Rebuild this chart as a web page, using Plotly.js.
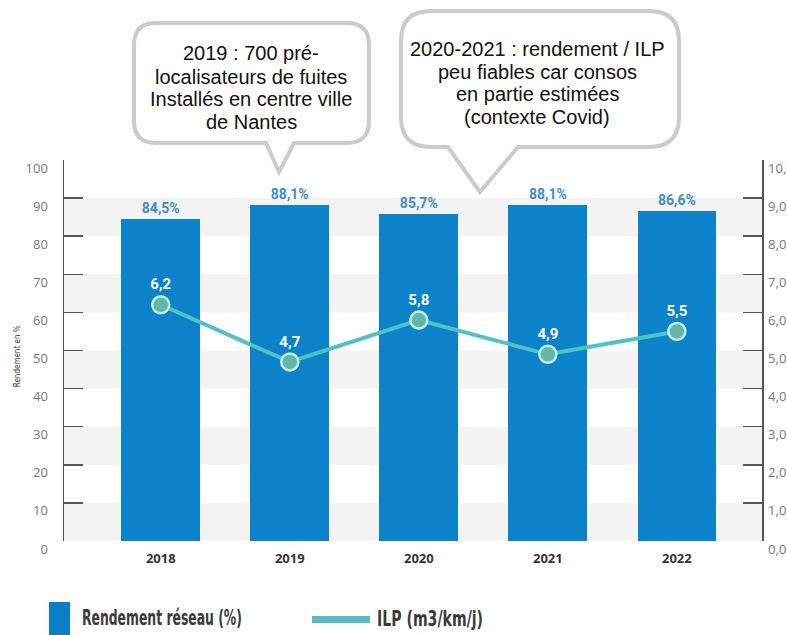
<!DOCTYPE html>
<html>
<head>
<meta charset="utf-8">
<script src="https://cdn.plot.ly/plotly-3.0.1.min.js"></script>
<style>html,body{margin:0;padding:0;background:#fff;}#chart{width:787px;height:635px;}</style>
</head>
<body>
<div id="chart"></div>
<script>
// ---- data ----
const years = ['2018', '2019', '2020', '2021', '2022'];
const rendement = [84.5, 88.1, 85.7, 88.1, 86.6];
const ilp = [6.2, 4.7, 5.8, 4.9, 5.5];
const leftTicks = [0, 10, 20, 30, 40, 50, 60, 70, 80, 90, 100];
const rightTicks = [0, 1, 2, 3, 4, 5, 6, 7, 8, 9, 10];
const bubble1Lines = ['2019 : 700 pré-', 'localisateurs de fuites', 'Installés en centre ville', 'de Nantes'];
const bubble2Lines = ['2020-2021 : rendement / ILP', 'peu fiables car consos', 'en partie estimées', '(contexte Covid)'];
const legendBar = 'Rendement réseau (%)';
const legendLine = 'ILP (m3/km/j)';
const yTitle = 'Rendement en %';

// ---- layout helpers (pixel -> paper) ----
const PL = 64, PT = 160, PW = 698, PH = 381;
const px = X => (X - PL) / PW;
const py = Y => (PT + PH - Y) / PH;
function P(X, Y) { return px(X).toFixed(5) + ',' + py(Y).toFixed(5); }
function bubblePath(x0, y0, x1, y1, r, tl, tr, tipX, tipY) {
  return 'M' + P(x0 + r, y0) + ' L' + P(x1 - r, y0) + ' Q' + P(x1, y0) + ' ' + P(x1, y0 + r) +
    ' L' + P(x1, y1 - r) + ' Q' + P(x1, y1) + ' ' + P(x1 - r, y1) +
    ' L' + P(tr, y1) + ' L' + P(tipX, tipY) + ' L' + P(tl, y1) +
    ' L' + P(x0 + r, y1) + ' Q' + P(x0, y1) + ' ' + P(x0, y1 - r) +
    ' L' + P(x0, y0 + r) + ' Q' + P(x0, y0) + ' ' + P(x0 + r, y0) + ' Z';
}

const shapes = [];
// alternating background bands
for (let v = 0; v < 100; v += 20) {
  shapes.push({type: 'rect', xref: 'paper', yref: 'y', x0: 0, x1: 1, y0: v, y1: v + 10,
    fillcolor: '#f3f3f3', line: {width: 0}, layer: 'below'});
}
// speech bubbles
shapes.push({type: 'path', xref: 'paper', yref: 'paper', layer: 'above',
  path: bubblePath(134, 23, 369, 143, 22, 266, 294, 279, 172),
  fillcolor: '#ffffff', line: {color: '#cbcbcb', width: 4}});
shapes.push({type: 'path', xref: 'paper', yref: 'paper', layer: 'above',
  path: bubblePath(401, 11, 679, 147, 30, 448, 518, 480, 192),
  fillcolor: '#ffffff', line: {color: '#cbcbcb', width: 4}});
// legend swatches
shapes.push({type: 'rect', xref: 'paper', yref: 'paper', x0: px(49), x1: px(70), y0: py(635), y1: py(602),
  fillcolor: '#0a7fc6', line: {width: 0}});
shapes.push({type: 'rect', xref: 'paper', yref: 'paper', x0: px(312), x1: px(370), y0: py(623), y1: py(616),
  fillcolor: '#5cb9c5', line: {width: 0}});

const annotations = [];
const b1Y = [53, 77, 99, 122];
bubble1Lines.forEach((t, i) => annotations.push({xref: 'paper', yref: 'paper', x: px(251), y: py(b1Y[i]),
  xanchor: 'center', yanchor: 'middle', showarrow: false, text: t,
  font: {family: 'Liberation Sans, Arial, sans-serif', size: 20, color: '#111'}}));
const b2Y = [49, 72, 94, 117];
bubble2Lines.forEach((t, i) => annotations.push({xref: 'paper', yref: 'paper', x: px(537), y: py(b2Y[i]),
  xanchor: 'center', yanchor: 'middle', showarrow: false, text: t,
  font: {family: 'Liberation Sans, Arial, sans-serif', size: 20, color: '#111'}}));
const legendFont = {family: 'DejaVu Sans Condensed, sans-serif', size: 21, color: '#3a3a3a', weight: 'bold'};
annotations.push({xref: 'paper', yref: 'paper', x: px(162), y: py(618), xanchor: 'center', yanchor: 'middle',
  showarrow: false, text: legendBar, font: legendFont});
annotations.push({xref: 'paper', yref: 'paper', x: px(430), y: py(619), xanchor: 'center', yanchor: 'middle',
  showarrow: false, text: legendLine, font: legendFont});
annotations.push({xref: 'paper', yref: 'paper', x: px(17), y: 0.485, xanchor: 'center', yanchor: 'middle',
  showarrow: false, text: yTitle, textangle: -90,
  font: {family: 'DejaVu Sans Condensed, sans-serif', size: 8, color: '#333'}});

const traces = [
  {type: 'bar', x: years, y: rendement, name: legendBar, width: 0.61,
   marker: {color: '#0b82c9'},
   texttemplate: '%{y:.1f}%', textposition: 'outside', cliponaxis: false,
   outsidetextfont: {family: 'Roboto, sans-serif', size: 14, color: '#3b8dc6', weight: 'bold'},
   hoverinfo: 'skip'},
  {type: 'scatter', mode: 'lines+markers+text', x: years, y: ilp, yaxis: 'y2', name: legendLine,
   line: {color: '#4fc3c3', width: 4},
   marker: {symbol: 'circle', size: 17, color: '#62b7ab', line: {color: '#c3efe9', width: 2.5}},
   texttemplate: '%{y:.1f}', textposition: 'top center', cliponaxis: false,
   textfont: {family: 'Roboto, sans-serif', size: 15, color: '#ffffff', weight: 'bold'},
   hoverinfo: 'skip'}
];

const axisCommon = {showgrid: false, zeroline: false, showline: true, linecolor: '#555', linewidth: 1.5,
  ticks: 'inside', ticklen: 19, tickwidth: 1.5, tickcolor: '#555',
  tickfont: {family: 'Open Sans, sans-serif', size: 13, color: '#777'}, ticklabelshift: 8, fixedrange: true};

const layout = {
  width: 787, height: 635,
  margin: {l: PL, r: 787 - PL - PW, t: PT, b: 635 - PT - PH, pad: 0},
  paper_bgcolor: '#ffffff', plot_bgcolor: 'rgba(0,0,0,0)',
  separators: ', ',
  showlegend: false,
  bargap: 0,
  xaxis: {type: 'category', range: [-0.75, 4.66], showline: false, showgrid: false, zeroline: false,
    ticks: '', ticklabelstandoff: 8,
    tickfont: {family: 'Open Sans, sans-serif', size: 13, color: '#333', weight: 'bold'}, fixedrange: true},
  yaxis: Object.assign({}, axisCommon, {range: [0, 100], tickvals: leftTicks, ticklabelstandoff: 12}),
  yaxis2: Object.assign({}, axisCommon, {range: [0, 10], tickvals: rightTicks, tickformat: '.1f',
    overlaying: 'y', side: 'right', ticklabelstandoff: 2}),
  shapes: shapes,
  annotations: annotations
};

Plotly.newPlot('chart', traces, layout, {displayModeBar: false, staticPlot: true}).then(gd => {
  // condense the legend texts to the reference widths
  const widths = {};
  widths[legendBar] = 160;
  widths[legendLine] = 106;
  gd.querySelectorAll('.annotation-text').forEach(t => {
    const w = widths[t.textContent];
    if (w) {
      t.setAttribute('textLength', w);
      t.setAttribute('lengthAdjust', 'spacingAndGlyphs');
    }
  });
});
</script>
</body>
</html>
